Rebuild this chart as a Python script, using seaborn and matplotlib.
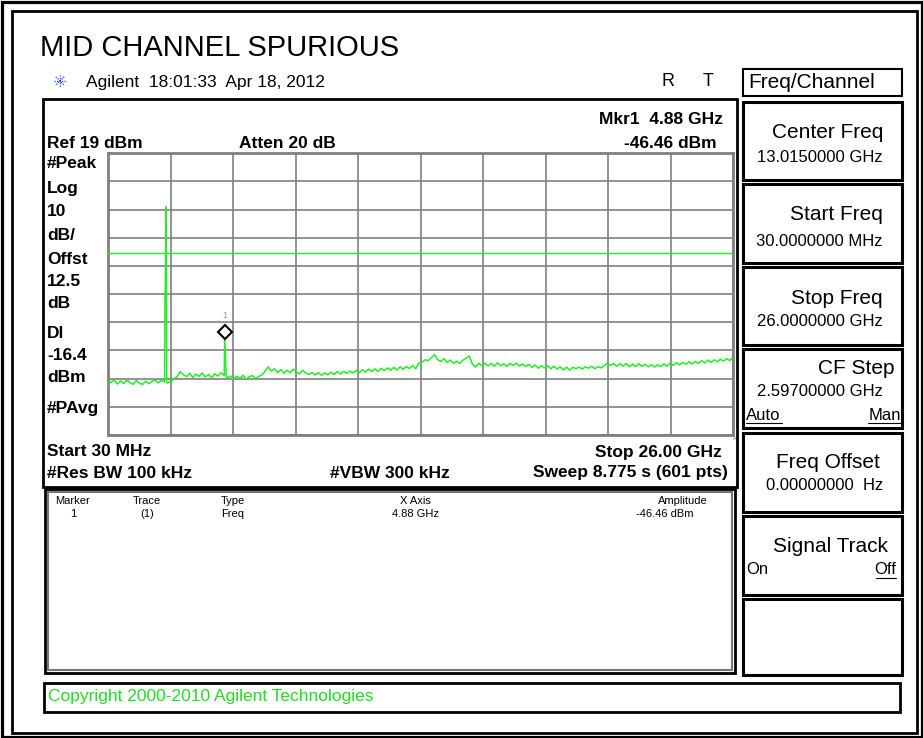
import numpy as np
import pandas as pd
import seaborn as sns
import matplotlib.pyplot as plt
from matplotlib.patches import Rectangle
import matplotlib.transforms as mtransforms

# ---- analyzer settings / readings ----
title = "MID CHANNEL SPURIOUS"
ref_level = 19          # dBm at top of graticule
db_per_div = 10
start_ghz = 0.03
stop_ghz = 26.0
display_line = -16.4    # dBm

mkr_freq = 4.88
mkr_amp = -46.46

# noise floor (601 pt sweep, thinned)
floor_dbm = [
    -63.3, -62.1, -61.6, -62.9, -61.8, -62.7, -61.5, -62.4, -63.0, -61.7,
    -62.6, -63.1, -61.9, -62.8, -62.0, -61.4, -62.5, -61.6, -62.2, -62.6,
    -61.9, -61.0, -60.4, -58.5, -59.6, -60.3, -59.1, -60.6, -59.4, -60.2,
    -59.0, -60.4, -59.5, -60.7, -59.3, -60.1, -58.9, -59.9, -60.8, -60.0,
    -61.2, -60.1, -60.9, -59.8, -61.3, -60.3, -59.9, -61.0, -60.2, -59.7,
    -58.4, -56.8, -58.3, -57.5, -58.9, -57.8, -59.1, -58.0, -58.9, -57.6,
    -58.7, -59.3, -58.0, -59.0, -59.5, -58.8, -59.7, -58.9, -59.8, -59.0,
    -59.6, -58.7, -59.5, -58.5, -59.4, -58.4, -59.1, -58.3, -59.0, -58.1,
    -58.9, -57.8, -58.7, -57.6, -58.5, -57.5, -58.4, -57.3, -58.1, -57.2,
    -58.0, -57.0, -57.9, -56.8, -57.7, -56.7, -57.4, -56.3, -57.5, -55.4,
    -55.1, -54.3, -54.6, -53.5, -52.5, -54.3, -54.9, -53.9, -55.3, -54.4,
    -55.5, -54.8, -55.6, -54.4, -53.8, -52.9, -55.8, -56.9, -55.6, -56.3,
    -55.5, -56.5, -55.6, -56.6, -55.4, -56.4, -55.7, -56.7, -55.6, -56.3,
    -55.5, -56.5, -55.8, -56.7, -55.9, -57.0, -56.2, -57.3, -56.4, -57.2,
    -56.4, -57.5, -56.6, -57.6, -56.8, -57.9, -56.9, -58.0, -57.0, -57.4,
    -56.9, -57.6, -56.8, -57.3, -56.6, -57.5, -56.7, -57.2, -56.4, -55.5,
    -56.3, -55.6, -56.6, -55.7, -56.5, -55.6, -56.8, -55.8, -56.7, -55.7,
    -56.6, -55.9, -56.8, -56.0, -56.9, -56.1, -56.7, -55.8, -56.6, -55.5,
    -56.3, -55.3, -56.1, -55.2, -55.9, -55.0, -55.8, -54.9, -55.6, -54.6,
    -55.4, -54.4, -55.2, -54.3, -55.0, -54.1, -54.8, -53.9, -54.6, -53.2,
]
floor_ghz = np.linspace(start_ghz, stop_ghz, len(floor_dbm))

# carrier (2.44 GHz) and the spur at the marker
spike_ghz = [2.40, 2.41, 2.45, 2.47, 4.85, 4.88, 4.91, 4.94]
spike_dbm = [-30.2, -30.2, 0.1, -62.2, -59.8, -46.46, -53.2, -60.4]

left_annot = ["#Peak", "Log", "10", "dB/", "Offst", "12.5", "dB", "Dl", "-16.4", "dBm", "#PAvg"]

softkeys = [
    ("Center Freq", "13.0150000 GHz"),
    ("Start Freq", "30.0000000 MHz"),
    ("Stop Freq", "26.0000000 GHz"),
    ("CF Step", "2.59700000 GHz"),
    ("Freq Offset", "0.00000000  Hz"),
    ("Signal Track", ""),
    ("", ""),
]

table_head = ["Marker", "Trace", "Type", "X Axis", "Amplitude"]
table_row = ["1", "(1)", "Freq", "4.88 GHz", "-46.46 dBm"]

trace = pd.DataFrame({"ghz": np.concatenate([floor_ghz, spike_ghz]),
                      "dbm": np.concatenate([floor_dbm, spike_dbm])}).sort_values("ghz", kind="stable")

sns.set_theme(style="white")
plt.rcParams["font.family"] = ["Liberation Sans", "DejaVu Sans"]

W, H = 923, 738
fig = plt.figure(figsize=(W / 100, H / 100), dpi=100)
fig.patch.set_facecolor("white")

# overlay in pixel coordinates for the screen furniture
ov = fig.add_axes([0, 0, 1, 1], zorder=0)
ov.set_xlim(0, W)
ov.set_ylim(H, 0)
ov.axis("off")


def box(x0, y0, x1, y1, lw=1.5, ec="black", z=1):
    ov.add_patch(Rectangle((x0, y0), x1 - x0, y1 - y0, fill=False, lw=lw, ec=ec, zorder=z))


# outer double frame
box(1.5, 1.5, W - 1.5, H - 1.5, lw=2.3)
box(12, 11, 917, 733, lw=2.0)

ov.text(40, 48, title, fontsize=21, va="center", ha="left", color="black")

# agilent logo (little blue starburst)
cx, cy = 60, 81
for ang in np.deg2rad([0, 45, 90, 135]):
    dx, dy = 6 * np.cos(ang), 6 * np.sin(ang)
    ov.plot([cx - dx, cx + dx], [cy - dy, cy + dy], color="#2233ee", lw=0.9, ls=(0, (1, 1)))
ov.text(86, 82, "Agilent  18:01:33  Apr 18, 2012", fontsize=12.5, va="center", color="black")
ov.text(668, 82, "R", fontsize=13, va="center", ha="center", color="black")
ov.text(708, 82, "T", fontsize=13, va="center", ha="center", color="black")

# main screen box and marker table box
box(43, 99, 737, 487, lw=2.0)
box(45, 489, 735, 673, lw=2.0)
box(48, 492, 732, 670, lw=1.5, ec="#777777")

bold = dict(fontsize=12.5, fontweight="bold", va="center", color="black")
ov.text(47, 143, "Ref 19 dBm", ha="left", **bold)
ov.text(239, 143, "Atten 20 dB", ha="left", **bold)
ov.text(723, 119, "Mkr1  4.88 GHz", ha="right", **bold)
ov.text(717, 143, "-46.46 dBm", ha="right", **bold)
for lab, yy in zip(left_annot, [164, 188, 211, 235, 259, 282, 303, 333, 355, 377, 408]):
    ov.text(47, yy, lab, ha="left", **bold)
ov.text(47, 452, "Start 30 MHz", ha="left", **bold)
ov.text(722, 452, "Stop 26.00 GHz", ha="right", **bold)
ov.text(735, 441, "^", fontsize=6, ha="center", va="center", color="#555555")
ov.text(47, 473, "#Res BW 100 kHz", ha="left", **bold)
ov.text(330, 473, "#VBW 300 kHz", ha="left", **bold)
ov.text(728, 473, "Sweep 8.775 s (601 pts)", ha="right", **bold)

small = dict(fontsize=8, va="center", color="black")
head_x = [73, 147, 221, 415, 683]
row_x = [73, 147, 221, 415, 665]
aligns = ["center", "center", "left", "center", "center"]
for lab, val, hx, rx, ha in zip(table_head, table_row, head_x, row_x, aligns):
    ov.text(hx, 501, lab, ha=ha, **small)
    ov.text(rx, 514, val, ha=ha, **small)

# softkey panel
box(743, 69, 902, 96, lw=1.5)
ov.text(748, 82, "Freq/Channel", fontsize=15, va="center", ha="left", color="black")
key_tops = [102, 184, 267, 349, 433, 516, 599]
key_bots = [180, 263, 345, 428, 512, 595, 675]
label_dy = [31, 31, 31, 19, 30, 30, 0]
label_rx = [883, 883, 883, 895, 880, 888, 0]
value_dy = [55, 57, 54, 43, 52, 0, 0]
for (lab, val), t, b, ld, lx, vd in zip(softkeys, key_tops, key_bots, label_dy, label_rx, value_dy):
    box(743, t, 902, b, lw=2.2)
    if lab:
        ov.text(lx, t + ld, lab, fontsize=15, ha="right", va="center", color="black")
    if val:
        ov.text(883, t + vd, val, fontsize=12, ha="right", va="center", color="black")
ov.text(746, 415, "Auto", fontsize=12, ha="left", va="center", color="black")
ov.plot([746, 782], [423, 423], color="black", lw=0.8)
ov.text(901, 415, "Man", fontsize=12, ha="right", va="center", color="black")
ov.plot([868, 901], [423, 423], color="black", lw=0.8)
ov.text(746, 570, "On", fontsize=12, ha="left", va="center", color="black")
ov.text(896, 570, "Off", fontsize=12, ha="right", va="center", color="black")
ov.plot([876, 896], [578, 578], color="black", lw=0.8)

# copyright bar
box(44, 683, 900, 712, lw=2.0)
ov.text(48, 697, "Copyright 2000-2010 Agilent Technologies", fontsize=12.5,
        ha="left", va="center", color="#22dd22")

# ---- graticule + trace ----
gl, gr, gt, gb = 108, 733, 153.3, 435
ax = fig.add_axes([gl / W, 1 - gb / H, (gr - gl) / W, (gb - gt) / H], zorder=2)
ax.set_facecolor("white")
bottom_level = ref_level - 10 * db_per_div
ax.set_xlim(start_ghz, stop_ghz)
ax.set_ylim(bottom_level, ref_level)
ax.set_xticks(np.linspace(start_ghz, stop_ghz, 11))
ax.set_yticks(np.arange(bottom_level, ref_level + 1, db_per_div))
ax.tick_params(length=0, labelbottom=False, labelleft=False)
ax.grid(True, color="#808080", lw=1.2)
for s in ax.spines.values():
    s.set_color("#808080")
    s.set_linewidth(2.0)

ax.axhline(display_line, color="#22ee22", lw=1.0, zorder=3)
sns.lineplot(data=trace, x="ghz", y="dbm", ax=ax, color="#22ee22", lw=1.1,
             estimator=None, sort=False, zorder=4)
ax.set_xlabel("")
ax.set_ylabel("")

off = mtransforms.ScaledTranslation(0, 4.2 / 72, fig.dpi_scale_trans)
ax.plot([mkr_freq], [mkr_amp], marker="D", ms=7, mfc="white", mec="black", mew=1.5,
        transform=ax.transData + off, zorder=5, clip_on=False)
off2 = mtransforms.ScaledTranslation(0, 16 / 72, fig.dpi_scale_trans)
ax.text(mkr_freq, mkr_amp, "1", fontsize=6.5, color="#999999", ha="center", va="center",
        transform=ax.transData + off2, zorder=5)

fig.savefig("out.png", dpi=100, facecolor="white")
